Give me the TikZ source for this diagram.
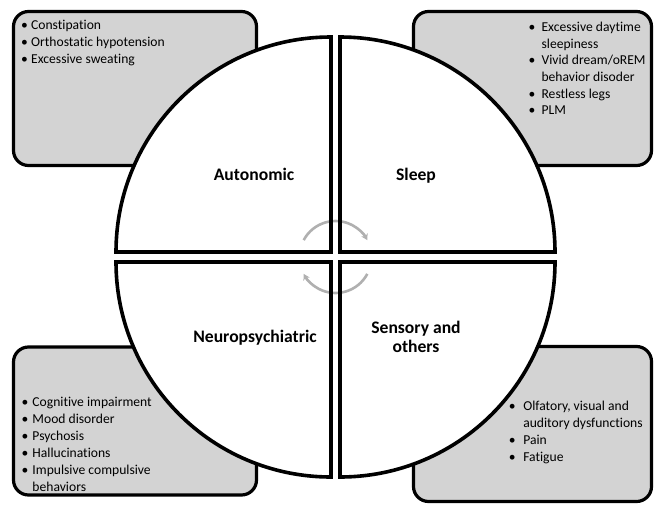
\documentclass[tikz,border=0pt]{standalone}
\usepackage{fontspec}
\setmainfont{Carlito}[Ligatures={NoCommon}]
\usetikzlibrary{arrows.meta}
\definecolor{boxgray}{RGB}{211,211,211}
\definecolor{arrgray}{RGB}{176,176,176}
\newcommand\itm[1][6.7pt]{\makebox[#1][l]{\makebox[0pt]{•}}}
\newcommand\hng[1][6.7pt]{\hspace*{#1}}
\begin{document}
\begin{tikzpicture}[x=1pt,y=-1pt,
  box/.style={draw=black, line width=3.2pt, fill=boxgray, rounded corners=15pt, inner sep=0pt},
  qfill/.style={fill=white},
  qline/.style={draw=black, line width=3.6pt, line join=miter},
  lst/.style={anchor=base west, inner sep=0pt, font=\fontsize{13.6}{17.2}\selectfont},
  lbl/.style={anchor=base, inner sep=0pt, font=\fontsize{17.6}{19}\selectfont\bfseries},
  cyc/.style={draw=arrgray, line width=2.6pt, -{Stealth[length=6pt,width=7pt]}}]
\useasboundingbox (0,0) rectangle (655,506);
% grey boxes
\node[box, minimum width=243pt, minimum height=154pt] (tlbox) at (135,88.5) {};
\node[box, minimum width=238pt, minimum height=154pt] (trbox) at (532.5,88.5) {};
\node[box, minimum width=243pt, minimum height=148pt] (blbox) at (135,421) {};
\node[box, minimum width=238pt, minimum height=155pt] (brbox) at (532.5,424) {};
% quarter corners
\coordinate (tlc) at (331,252);
\coordinate (trc) at (340,252);
\coordinate (blc) at (331,262);
\coordinate (brc) at (340,262);
\coordinate (hub) at (335.5,257);
% white fills
\path[qfill] (tlc) -- ++(-215,0) arc (180:270:215) -- cycle;
\path[qfill] (trc) -- ++(0,-215) arc (270:360:215) -- cycle;
\path[qfill] (blc) -- ++(-215,0) arc (180:90:215) -- cycle;
\path[qfill] (brc) -- ++(215,0) arc (0:90:215) -- cycle;
% cycle arrows
\draw[cyc] ([shift={(208:36)}]hub) arc (208:332:36);
\draw[cyc] ([shift={(28:36)}]hub) arc (28:152:36);
% quarter borders
\path[qline] (tlc) -- ++(-215,0) arc (180:270:215) -- cycle;
\path[qline] (trc) -- ++(0,-215) arc (270:360:215) -- cycle;
\path[qline] (blc) -- ++(-215,0) arc (180:90:215) -- cycle;
\path[qline] (brc) -- ++(215,0) arc (0:90:215) -- cycle;
% labels
\node[lbl] (auto) at (254,180.7) {Autonomic};
\node[lbl] (sleep) at (416,180.7) {Sleep};
\node[lbl] (neuro) at (255,342.7) {Neuropsychiatric};
\node[lbl] (senso) at (416,333.3) {\begin{tabular}[t]{@{}c@{}}Sensory and\\ others\end{tabular}};
% lists
\node[lst] (tllist) at (24.3,29) {\begin{tabular}[t]{@{}l@{}}
\itm Constipation\\
\itm Orthostatic hypotension\\
\itm Excessive sweating\end{tabular}};
\node[lst, font=\fontsize{13.6}{16.7}\selectfont] (trlist) at (531.7,31.3) {\begin{tabular}[t]{@{}l@{}}
\itm[6.6pt] Excessive daytime\\
\hng[6.6pt] sleepiness\\
\itm[6.6pt] Vivid dream/oREM\\
\hng[6.6pt] behavior disoder\\
\itm[6.6pt] Restless legs\\
\itm[6.6pt] PLM\end{tabular}};
\node[lst, font=\fontsize{13.6}{17}\selectfont] (bllist) at (24.7,406.7) {\begin{tabular}[t]{@{}l@{}}
\itm[4.5pt] Cognitive impairment\\
\itm[4.5pt] Mood disorder\\
\itm[4.5pt] Psychosis\\
\itm[4.5pt] Hallucinations\\
\itm[4.5pt] Impulsive compulsive\\
\hng[4.5pt] behaviors\end{tabular}};
\node[lst, font=\fontsize{13.6}{17}\selectfont] (brlist) at (512,410.5) {\begin{tabular}[t]{@{}l@{}}
\itm[8pt] Olfatory, visual and\\
\hng[8pt] auditory dysfunctions\\
\itm[8pt] Pain\\
\itm[8pt] Fatigue\end{tabular}};
\end{tikzpicture}
\end{document}
